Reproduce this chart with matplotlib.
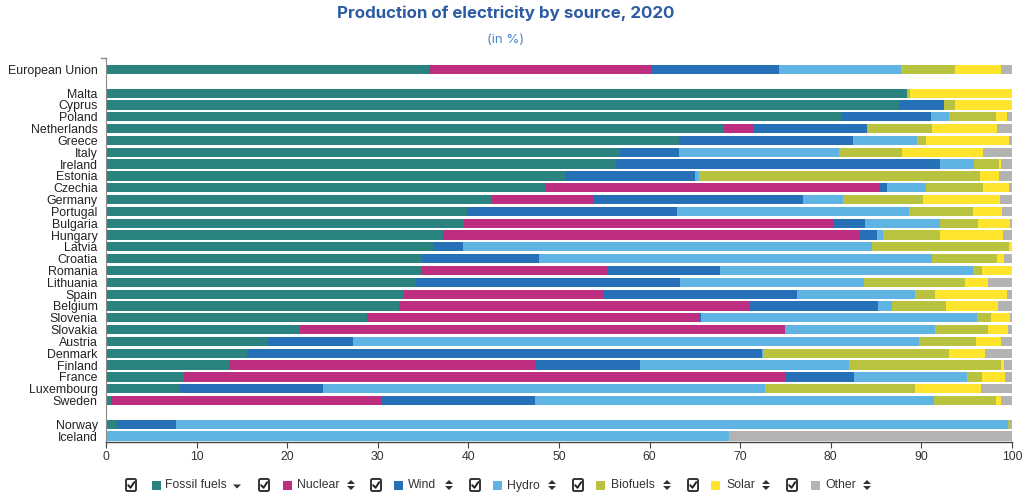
import numpy as np
import matplotlib
matplotlib.use('Agg')
from matplotlib import pyplot as plt
from matplotlib.patches import Rectangle, FancyBboxPatch, Polygon

plt.rcParams['font.family'] = ['Liberation Sans', 'DejaVu Sans']

countries = ["European Union", "Malta", "Cyprus", "Poland", "Netherlands", "Greece", "Italy",
             "Ireland", "Estonia", "Czechia", "Germany", "Portugal", "Bulgaria", "Hungary",
             "Latvia", "Croatia", "Romania", "Lithuania", "Spain", "Belgium", "Slovenia",
             "Slovakia", "Austria", "Denmark", "Finland", "France", "Luxembourg", "Sweden",
             "Norway", "Iceland"]

fossil = [35.6, 88.4, 87.5, 81.2, 68.2, 63.2, 56.7, 56.3, 50.8, 48.6, 42.6, 39.8, 39.5, 37.2,
          36.1, 34.9, 34.9, 34.2, 32.9, 32.3, 28.8, 21.4, 17.9, 15.6, 13.6, 8.6, 8.2, 0.6, 1.2, 0.0]
nuclear = [24.5, 0, 0, 0, 3.3, 0, 0, 0, 0, 36.8, 11.2, 0, 40.8, 46.0, 0, 0, 20.5, 0, 22.1, 38.7,
           36.8, 53.5, 0, 0, 33.9, 66.5, 0, 29.9, 0, 0]
wind = [14.2, 0, 5.0, 9.9, 12.5, 19.2, 6.6, 35.7, 14.2, 0.8, 23.1, 23.2, 3.5, 1.9, 3.3, 12.9,
        12.4, 29.2, 21.3, 14.2, 0.1, 0, 9.4, 56.8, 11.4, 7.5, 15.7, 16.9, 6.5, 0]
hydro = [13.5, 0, 0, 1.9, 0, 7.1, 17.6, 3.8, 0.5, 4.3, 4.4, 25.6, 8.3, 0.7, 45.2, 43.4, 27.9,
         20.3, 13.0, 1.5, 30.4, 16.6, 62.4, 0.1, 23.1, 12.4, 48.8, 44.0, 91.9, 68.8]
biofuels = [5.9, 0.3, 1.2, 5.2, 7.2, 1.0, 7.0, 2.8, 31.0, 6.3, 8.9, 7.1, 4.1, 6.2, 15.1, 7.1,
            1.0, 11.1, 2.2, 6.0, 1.6, 5.9, 6.3, 20.5, 16.8, 1.7, 16.6, 6.8, 0.2, 0]
solar = [5.1, 11.3, 6.3, 1.3, 7.1, 9.2, 8.9, 0.2, 2.1, 2.9, 8.5, 3.2, 3.6, 7.0, 0.3, 0.8, 3.3,
         2.5, 7.9, 5.8, 2.1, 2.2, 2.8, 4.0, 0.3, 2.5, 7.3, 0.6, 0, 0]
other = [1.2, 0, 0, 0.5, 1.7, 0.3, 3.2, 1.2, 1.4, 0.3, 1.3, 1.1, 0.2, 1.0, 0, 0.9, 0, 2.7, 0.6,
         1.5, 0.3, 0.4, 1.2, 3.0, 0.9, 0.8, 3.4, 1.2, 0.2, 31.2]

series_names = ["Fossil fuels", "Nuclear", "Wind", "Hydro", "Biofuels", "Solar", "Other"]
series_colors = ['#2b837f', '#be2e80', '#2670b7', '#60b4e4', '#b9c340', '#fee42c', '#b3b3b3']
x_ticks = [0, 10, 20, 30, 40, 50, 60, 70, 80, 90, 100]

# EU on top, a blank row, the member states, a blank row, then Norway/Iceland
ypos = np.array([0] + list(range(2, 29)) + [30, 31])

fig = plt.figure(figsize=(10.24, 5.04), dpi=100)
ax = fig.add_axes([106 / 1024, 1 - 441.7 / 504, (1012 - 106) / 1024, (441.7 - 58) / 504])

left = np.zeros(len(countries))
for name, vals, col in zip(series_names, [fossil, nuclear, wind, hydro, biofuels, solar, other],
                           series_colors):
    vals = np.array(vals, dtype=float)
    ax.barh(ypos, vals, left=left, height=0.78, color=col, linewidth=0, label=name)
    left += vals

ax.set_xlim(0, 100)
ax.set_ylim(31.48, -0.97)
ax.set_yticks(ypos)
ax.set_yticklabels(countries, fontsize=8.9, color='#222222')
ax.tick_params(axis='y', length=0, pad=6)
ax.set_xticks(x_ticks)
ax.set_xticklabels([str(t) for t in x_ticks], fontsize=8.8, color='#333333')
ax.tick_params(axis='x', length=4, color='#444444', pad=2.5)
for s in ['top', 'right']:
    ax.spines[s].set_visible(False)
ax.spines['left'].set_color('#8a8a8a')
ax.spines['bottom'].set_color('#444444')
ax.spines['bottom'].set_linewidth(1.0)

# overlay in pixel coordinates for title and legend decorations
ov = fig.add_axes([0, 0, 1, 1], zorder=5)
ov.set_xlim(0, 1024)
ov.set_ylim(504, 0)
ov.axis('off')
ov.patch.set_alpha(0)

ov.text(506, 13, 'Production of electricity by source, 2020', ha='center', va='center',
        fontsize=12.2, fontweight='bold', color='#2c5ba3', family=['Inter', 'DejaVu Sans'])
ov.text(506, 40, '(in %)', ha='center', va='center', fontsize=9.5,
        color='#4a84c8', family=['Inter', 'DejaVu Sans'])

# small tick at the top of the y axis
ov.plot([101, 106], [58, 58], color='#8a8a8a', lw=1)

check_x = [126, 259, 371, 470, 573, 688, 787]
sq_x = [152, 283, 394, 493, 596, 711, 811]
text_x = [165, 297, 408, 507, 611, 726, 825]
arrow_x = [237, 351, 449, 552, 667, 766, 867]
ly = 485

for i, name in enumerate(series_names):
    cx = check_x[i]
    box = FancyBboxPatch((cx, ly - 6), 10, 12, boxstyle='round,pad=0,rounding_size=1.5',
                         facecolor='white', edgecolor='#333333', linewidth=1.4)
    ov.add_patch(box)
    ov.plot([cx + 2.2, cx + 4.5, cx + 8.2], [ly + 0.2, ly + 2.8, ly - 2.8], color='#222222',
            lw=1.4, solid_capstyle='round')
    ov.add_patch(Rectangle((sq_x[i], ly - 4.5), 9, 9, facecolor=series_colors[i], edgecolor='none'))
    ov.text(text_x[i], ly + 0.5, name, ha='left', va='center', fontsize=8.8, color='#333333')
    a = arrow_x[i]
    if i == 0:
        ov.add_patch(Polygon([[a - 4, ly - 0.5], [a + 4, ly - 0.5], [a, ly + 3.5]],
                             closed=True, facecolor='#333333', edgecolor='none'))
    else:
        ov.add_patch(Polygon([[a - 4, ly - 1], [a + 4, ly - 1], [a, ly - 5]],
                             closed=True, facecolor='#333333', edgecolor='none'))
        ov.add_patch(Polygon([[a - 4, ly + 1], [a + 4, ly + 1], [a, ly + 5]],
                             closed=True, facecolor='#333333', edgecolor='none'))

fig.savefig('out.png', dpi=100, facecolor='white')
